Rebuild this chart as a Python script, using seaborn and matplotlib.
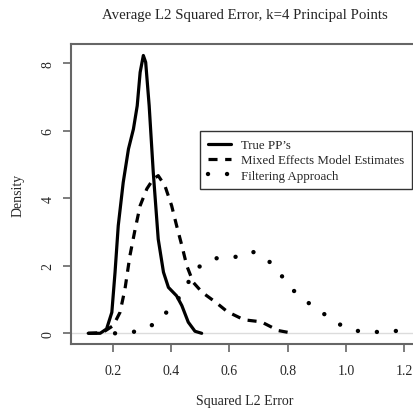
import numpy as np
import pandas as pd
import seaborn as sns
import matplotlib.pyplot as plt

# density curves
true_x = [0.116, 0.157, 0.179, 0.197, 0.208, 0.219, 0.236, 0.254, 0.271, 0.284,
          0.294, 0.305, 0.313, 0.325, 0.339, 0.356, 0.374, 0.391, 0.419, 0.437,
          0.459, 0.482, 0.505]
true_y = [0.0, 0.0, 0.13, 0.62, 1.81, 3.19, 4.47, 5.46, 6.05, 6.74,
          7.73, 8.23, 8.03, 6.74, 4.77, 2.79, 1.81, 1.36, 1.11, 0.82,
          0.33, 0.06, 0.0]

mixed_x = [0.116, 0.165, 0.202, 0.225, 0.242, 0.259, 0.277, 0.294, 0.317, 0.339,
           0.356, 0.379, 0.402, 0.419, 0.437, 0.454, 0.476, 0.507, 0.553, 0.593,
           0.650, 0.709, 0.768, 0.819]
mixed_y = [0.0, 0.02, 0.23, 0.62, 1.31, 2.30, 3.09, 3.78, 4.28, 4.57,
           4.67, 4.37, 3.78, 3.19, 2.60, 2.00, 1.51, 1.21, 0.92, 0.64,
           0.40, 0.34, 0.08, 0.0]

filt_x = [0.208, 0.271, 0.334, 0.382, 0.426, 0.459, 0.496, 0.551, 0.616, 0.677,
          0.731, 0.774, 0.814, 0.863, 0.917, 0.968, 1.028, 1.092, 1.157, 1.220]
filt_y = [0.0, 0.04, 0.24, 0.60, 1.04, 1.51, 1.97, 2.22, 2.25, 2.43,
          2.18, 1.76, 1.31, 0.95, 0.62, 0.30, 0.08, 0.03, 0.08, 0.03]

x_ticks = [0.2, 0.4, 0.6, 0.8, 1.0, 1.2]
y_ticks = [0, 2, 4, 6, 8]

sns.set_style("white")
plt.rcParams['font.family'] = ['Liberation Serif', 'DejaVu Serif']
plt.rcParams['lines.scale_dashes'] = False

fig = plt.figure(figsize=(4.14, 4.14), dpi=100)
ax = fig.add_axes([71/414, 69/414, 348/414, 300/414])

ax.axhline(0, color='#dcdcdc', lw=1, zorder=0)
sns.lineplot(x=true_x, y=true_y, ax=ax, color='black', lw=2.3,
             estimator=None, sort=False, label="True PP’s")
sns.lineplot(x=mixed_x, y=mixed_y, ax=ax, color='black', lw=2.3,
             linestyle=(0, (6.5, 5.5)), estimator=None, sort=False,
             label="Mixed Effects Model Estimates")
sns.lineplot(x=filt_x, y=filt_y, ax=ax, color='black', lw=3.2,
             linestyle=(0, (0.01, 13.7)), dash_capstyle='round',
             estimator=None, sort=False, label="Filtering Approach")

ax.set_xlim(0.057, 1.25)
ax.set_ylim(-0.317, 8.57)
ax.set_xticks(x_ticks)
ax.set_xticklabels([f"{t:.1f}" for t in x_ticks])
ax.set_yticks(y_ticks)
ax.set_yticklabels([str(t) for t in y_ticks], rotation=90, va='center')
ax.tick_params(axis='both', length=6, width=1.2, color='#666666',
               labelsize=10, bottom=True, left=True)
ax.tick_params(axis='x', pad=8.5)
ax.tick_params(axis='y', pad=6)
for s in ax.spines.values():
    s.set_color('#666666')
    s.set_linewidth(1.5)

ax.set_title("Average L2 Squared Error, k=4 Principal Points", fontsize=10.7, pad=19)
ax.set_xlabel("Squared L2 Error", fontsize=10, labelpad=12)
ax.set_ylabel("Density", fontsize=10, labelpad=12)

leg = ax.legend(loc='upper left', bbox_to_anchor=(0.372, 0.709), fontsize=9.3,
                frameon=True, fancybox=False, edgecolor='black',
                handlelength=1.8, handletextpad=0.75, labelspacing=0.25,
                borderpad=0.6, borderaxespad=0)
leg.get_frame().set_linewidth(1.0)

fig.savefig("out.png", dpi=100)
